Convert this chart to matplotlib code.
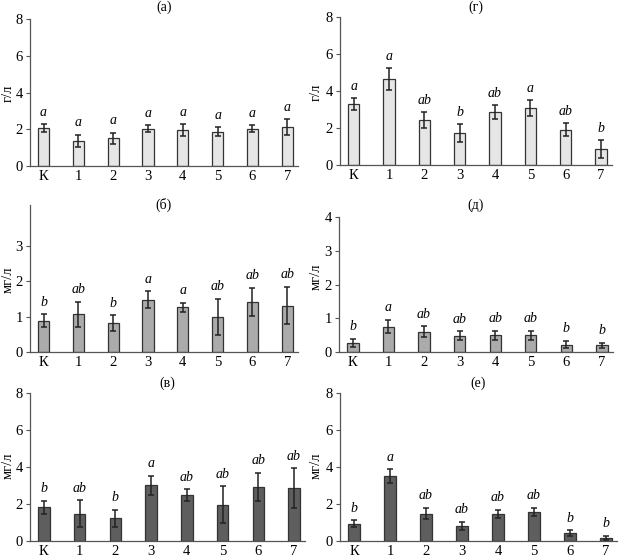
import matplotlib
matplotlib.use("Agg")
import matplotlib.pyplot as plt
import numpy as np

plt.rcParams['font.family'] = ['Liberation Serif', 'DejaVu Serif']

categories = ['К', '1', '2', '3', '4', '5', '6', '7']

# (а) г/л
a_vals = [2.07, 1.36, 1.50, 2.04, 1.96, 1.87, 2.04, 2.13]
a_errs = [0.20, 0.35, 0.30, 0.19, 0.32, 0.25, 0.19, 0.43]
a_lets = ['a', 'a', 'a', 'a', 'a', 'a', 'a', 'a']

# (б) мг/л
b_vals = [0.88, 1.06, 0.82, 1.47, 1.26, 0.99, 1.41, 1.31]
b_errs = [0.18, 0.36, 0.22, 0.24, 0.13, 0.51, 0.40, 0.53]
b_lets = ['b', 'ab', 'b', 'a', 'a', 'ab', 'ab', 'ab']

# (в) мг/л
v_vals = [1.82, 1.46, 1.21, 2.99, 2.47, 1.93, 2.90, 2.85]
v_errs = [0.35, 0.73, 0.45, 0.52, 0.30, 1.00, 0.76, 1.07]
v_lets = ['b', 'ab', 'b', 'a', 'ab', 'ab', 'ab', 'ab']

# (г) г/л
g_vals = [3.28, 4.63, 2.42, 1.72, 2.85, 3.07, 1.90, 0.86]
g_errs = [0.31, 0.59, 0.42, 0.47, 0.37, 0.43, 0.35, 0.48]
g_lets = ['a', 'a', 'ab', 'b', 'ab', 'a', 'ab', 'b']

# (д) мг/л
d_vals = [0.28, 0.75, 0.60, 0.48, 0.50, 0.50, 0.22, 0.20]
d_errs = [0.12, 0.20, 0.16, 0.13, 0.13, 0.13, 0.11, 0.08]
d_lets = ['b', 'a', 'ab', 'ab', 'ab', 'ab', 'b', 'b']

# (е) мг/л
e_vals = [0.92, 3.50, 1.46, 0.81, 1.46, 1.57, 0.40, 0.16]
e_errs = [0.19, 0.37, 0.31, 0.22, 0.22, 0.22, 0.17, 0.12]
e_lets = ['b', 'a', 'ab', 'ab', 'ab', 'ab', 'b', 'b']

W, H = 619, 559
fig = plt.figure(figsize=(W / 100, H / 100), dpi=100)

def px_axes(left, right, top, bottom):
    return fig.add_axes([left / W, 1 - bottom / H, (right - left) / W, (bottom - top) / H])

light = '#e6e6e6'
mid = '#ababab'
dark = '#5e5e5e'

panels = [
    ('(а)', a_vals, a_errs, a_lets, light, 'г/л', (30, 298, 19.3, 166), 8, [0, 2, 4, 6, 8], 7, 93, 8),
    ('(б)', b_vals, b_errs, b_lets, mid, 'мг/л', (30, 298, 205, 352), 4.15, [0, 1, 2, 3], 205, 280, 8),
    ('(в)', v_vals, v_errs, v_lets, dark, 'мг/л', (30, 305, 392.7, 540.7), 8, [0, 2, 4, 6, 8], 383, 466, 8),
    ('(г)', g_vals, g_errs, g_lets, light, 'г/л', (340, 612, 16.7, 165), 8, [0, 2, 4, 6, 8], 7, 92, 316),
    ('(д)', d_vals, d_errs, d_lets, mid, 'мг/л', (339, 613, 217, 352), 4, [0, 1, 2, 3, 4], 205, 277, 316),
    ('(е)', e_vals, e_errs, e_lets, dark, 'мг/л', (340, 617, 392.7, 540.7), 8, [0, 2, 4, 6, 8], 383, 466, 316),
]

fs = 10
x = np.arange(len(categories))
for title, vals, errs, lets, col, ylab, (l, r, t, b), ymax, yticks, ty, yly, ylx in panels:
    ax = px_axes(l, r, t, b)
    ax.bar(x, vals, width=0.32, color=col, edgecolor='#333333', linewidth=0.9, zorder=2)
    ax.errorbar(x, vals, yerr=errs, fmt='none', ecolor='#222222', elinewidth=1.1,
                capsize=2.3, capthick=1.1, zorder=3)
    for xi, v, e, lt in zip(x, vals, errs, lets):
        ax.annotate(lt, (xi, v + e), xytext=(0, 4), textcoords='offset points',
                    ha='center', va='bottom', fontsize=fs, style='italic')
    ax.set_xlim(-0.39, 7.31)
    ax.set_ylim(0, ymax)
    ax.set_yticks(yticks)
    ax.set_xticks(x)
    ax.set_xticklabels(categories)
    for s in ['top', 'right']:
        ax.spines[s].set_visible(False)
    for s in ['left', 'bottom']:
        ax.spines[s].set_color('#555555')
        ax.spines[s].set_linewidth(0.9)
    ax.tick_params(axis='x', length=0, pad=3, labelsize=fs + 0.5)
    ax.tick_params(axis='y', length=3, width=0.8, color='#555555', pad=2, labelsize=fs + 0.5)
    fig.text((l + r) / 2 / W, 1 - ty / H, title, ha='center', va='center', fontsize=fs)
    fig.text(ylx / W, 1 - yly / H, ylab, ha='center', va='center', rotation=90, fontsize=fs + 0.5)

fig.savefig('out.png', dpi=100)
